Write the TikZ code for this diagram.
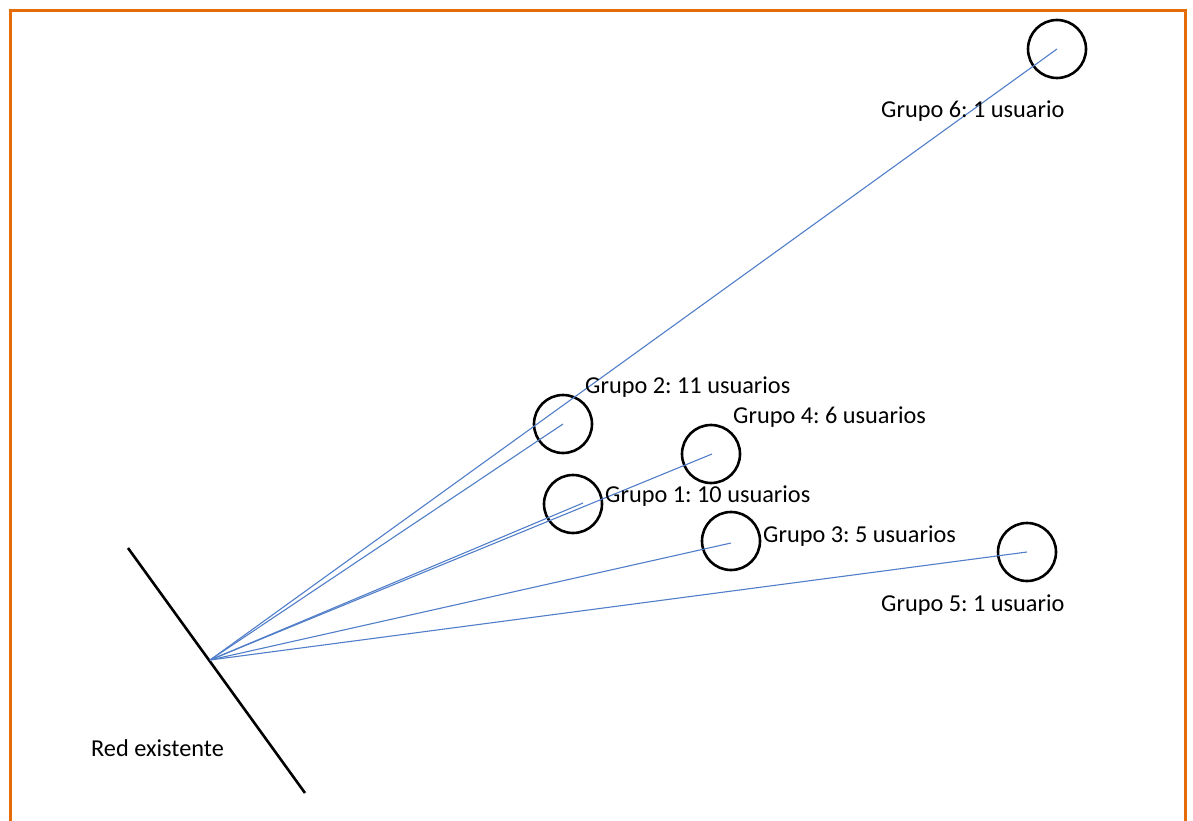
\documentclass[tikz,border=0pt]{standalone}
\usepackage{fontspec}
\setmainfont{Carlito}
\frenchspacing
\definecolor{frameorange}{RGB}{228,108,10}
\definecolor{linkblue}{RGB}{80,126,200}
\begin{document}
\begin{tikzpicture}[x=1pt,y=-1pt,
  grp/.style={circle,draw=black,line width=2.6pt,minimum size=58pt,inner sep=0pt},
  lbl/.style={anchor=west,inner sep=0pt,font=\fontsize{24.3}{29}\selectfont},
  link/.style={draw=linkblue,line width=1.1pt}]
\useasboundingbox (0,0) rectangle (1193,821);
\begin{scope}
\clip (0,0) rectangle (1193,821);
\draw[frameorange,line width=3.5pt] (10.5,10.5) rectangle (1185.5,840);
\end{scope}
% existing network
\coordinate (ra) at (128,548);
\coordinate (rb) at (305,793);
\draw[line width=2.6pt] (ra) -- (rb);
\coordinate (src) at (210,660);
% groups
\node[grp] (g6) at (1057,49) {};
\node[grp] (g2) at (563,424) {};
\node[grp] (g4) at (711,454) {};
\node[grp] (g1) at (573,504) {};
\node[grp] (g3) at (731,541) {};
\node[grp] (g5) at (1027,552) {};
\coordinate (e6) at (1057,49);
\coordinate (e2) at (563,424);
\coordinate (e4) at (712,454);
\coordinate (e1) at (583,503);
\coordinate (e3) at (731,543);
\coordinate (e5) at (1027,552);
\foreach \e in {e6,e2,e4,e1,e3,e5} \draw[link] (src) -- (\e);
% labels
\node[lbl] (t6) at (881,111) {Grupo 6: 1 usuario};
\node[lbl] (t2) at (585,387) {Grupo 2: 11 usuarios};
\node[lbl] (t4) at (733,417) {Grupo 4: 6 usuarios};
\node[lbl] (t1) at (605,496) {Grupo 1: 10 usuarios};
\node[lbl] (t3) at (763,536) {Grupo 3: 5 usuarios};
\node[lbl] (t5) at (881,605) {Grupo 5: 1 usuario};
\node[lbl] (tr) at (91,748) {Red existente};
\end{tikzpicture}
\end{document}
